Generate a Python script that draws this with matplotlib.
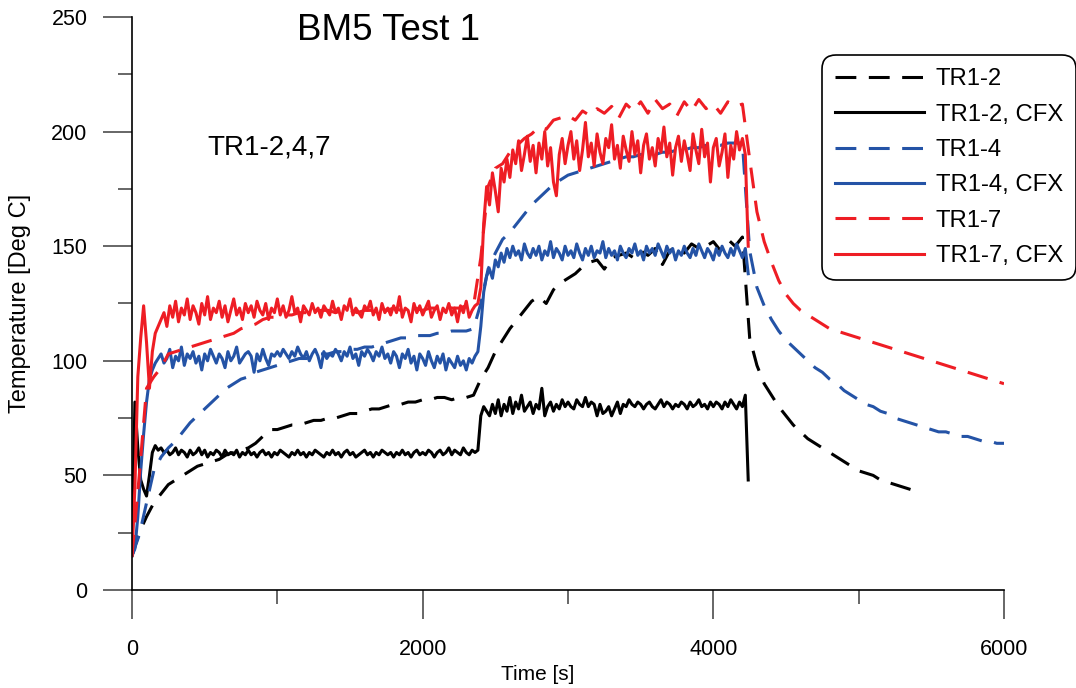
import numpy as np
import matplotlib
matplotlib.use("Agg")
import matplotlib.pyplot as plt

plt.rcParams['font.family'] = ['Liberation Sans', 'DejaVu Sans']
plt.rcParams['lines.scale_dashes'] = False

# Sample times [s]
t_cfx = np.arange(0, 4241, 20)      # CFX simulation output
t_tr2 = np.arange(0, 5401, 50)      # measured TR1-2
t_tr47 = np.arange(0, 6001, 50)     # measured TR1-4 and TR1-7

# Measured temperatures [deg C]
tr2_exp = [
    15, 25, 32, 38, 42, 46, 48, 50, 52, 54,
    55, 56, 57, 59, 60, 61, 62, 64, 67, 70,
    70, 71, 72, 72, 73, 74, 74, 75, 75, 76,
    77, 77, 78, 79, 79, 80, 81, 81, 82, 82,
    83, 83, 84, 84, 83, 84, 84, 85, 92, 97,
    104, 109, 114, 118, 122, 126, 128, 125, 131, 134,
    136, 138, 141, 143, 144, 140, 145, 146, 147, 145,
    148, 146, 149, 142, 148, 150, 147, 151, 149, 150,
    152, 148, 153, 150, 154, 110, 98, 90, 85, 80,
    76, 72, 69, 66, 64, 62, 60, 58, 56, 54,
    52, 51, 50, 48, 47, 46, 45, 44, 43,
]

tr4_exp = [
    15, 24, 38, 52, 58, 62, 65, 69, 73, 76,
    79, 82, 85, 88, 90, 92, 93, 95, 96, 97,
    98, 99, 100, 101, 101, 102, 103, 103, 104, 104,
    105, 105, 106, 106, 107, 108, 109, 110, 110, 111,
    111, 111, 112, 112, 113, 113, 113, 114, 125, 140,
    147, 153, 156, 160, 164, 168, 171, 174, 177, 179,
    181, 182, 183, 184, 185, 186, 187, 188, 189, 189,
    190, 190, 190, 191, 191, 192, 192, 193, 193, 194,
    194, 194, 195, 195, 195, 148, 132, 124, 118, 113,
    109, 106, 103, 100, 97, 95, 92, 90, 87, 85,
    83, 81, 80, 78, 77, 75, 74, 73, 72, 71,
    70, 69, 69, 68, 67, 67, 66, 65, 65, 64,
    64,
]

tr7_exp = [
    15, 50, 88, 93, 97, 103, 104, 105, 106, 107,
    108, 109, 110, 111, 112, 114, 115, 116, 118, 119,
    119, 120, 120, 121, 121, 121, 122, 122, 121, 122,
    122, 121, 122, 122, 123, 122, 123, 122, 123, 123,
    122, 123, 123, 124, 123, 123, 124, 124, 145, 176,
    184, 186, 191, 194, 197, 199, 202, 201, 205, 206,
    207, 205, 209, 207, 210, 208, 211, 206, 212, 209,
    213, 208, 214, 210, 212, 207, 213, 209, 214, 210,
    212, 208, 213, 211, 212, 188, 165, 152, 143, 135,
    129, 125, 122, 120, 118, 116, 114, 113, 112, 111,
    110, 109, 108, 107, 106, 105, 104, 103, 102, 101,
    100, 99, 98, 97, 96, 95, 94, 93, 92, 91,
    90,
]

# CFX results [deg C]
tr2_cfx = [
    15, 82, 62, 48, 44, 41, 50, 60, 63, 61,
    62, 60, 61, 59, 60, 62, 59, 61, 60, 58,
    61, 59, 60, 62, 59, 61, 58, 60, 59, 61,
    60, 58, 61, 59, 60, 59, 61, 58, 60, 59,
    61, 59, 60, 58, 60, 61, 59, 60, 58, 60,
    59, 61, 60, 59, 58, 60, 59, 61, 59, 60,
    58, 60, 59, 61, 60, 59, 58, 60, 59, 61,
    59, 60, 58, 60, 61, 59, 60, 58, 59, 60,
    61, 59, 60, 58, 60, 59, 61, 60, 59, 60,
    58, 60, 59, 61, 59, 60, 58, 60, 61, 59,
    60, 59, 61, 60, 58, 60, 61, 59, 60, 62,
    59, 61, 60, 59, 62, 60, 59, 61, 60, 61,
    76, 80, 78, 76, 81, 77, 83, 76, 81, 78,
    84, 77, 82, 79, 85, 78, 80, 82, 77, 81,
    79, 88, 76, 80, 82, 78, 81, 79, 83, 80,
    82, 80, 79, 83, 81, 80, 84, 80, 82, 81,
    76, 81, 77, 78, 80, 76, 79, 82, 77, 81,
    80, 83, 81, 80, 82, 81, 79, 81, 82, 80,
    79, 81, 83, 80, 82, 81, 79, 81, 80, 82,
    81, 79, 82, 80, 81, 83, 80, 81, 79, 82,
    80, 82, 81, 79, 82, 80, 83, 81, 79, 82,
    80, 85, 48,
]

tr4_cfx = [
    15, 18, 32, 52, 68, 82, 92, 96, 99, 101,
    103, 99, 101, 105, 97, 102, 100, 106, 98, 103,
    101, 104, 99, 102, 96, 103, 100, 105, 102, 99,
    103, 101, 97, 104, 100, 102, 106, 99, 101, 103,
    104, 102, 95, 103, 100, 105, 101, 98, 103, 102,
    104, 102, 105, 103, 101, 104, 102, 106, 103, 101,
    104, 100, 103, 105, 102, 97, 104, 101, 103, 102,
    105, 103, 100, 104, 102, 106, 101, 103, 98, 104,
    102, 105, 103, 100, 104, 102, 106, 101, 103, 99,
    104, 102, 97, 103, 101, 105, 99, 102, 96, 103,
    101, 98, 104, 100, 97, 102, 99, 103, 96, 101,
    99, 97, 102, 98, 100, 96, 101, 99, 102, 104,
    115, 130, 137, 140, 136, 144, 141, 147, 143, 149,
    145, 150, 146, 148, 144, 151, 147, 145, 149, 146,
    150, 144, 148, 146, 152, 145, 149, 147, 144, 150,
    146, 148, 145, 151, 147, 144, 149, 146, 150, 145,
    148, 147, 152, 145, 149, 146, 148, 144, 150, 147,
    145, 149, 147, 151, 146, 148, 144, 150, 147, 149,
    146, 151, 148, 145, 150, 147, 149, 144, 148, 146,
    150, 147, 145, 149, 146, 151, 148, 145, 149, 147,
    144, 149, 146, 150, 147, 145, 149, 146, 151, 148,
    145, 149, 138,
]

tr7_cfx = [
    15, 45, 93, 110, 124, 108, 88, 104, 112, 115,
    118, 121, 115, 124, 119, 126, 117, 123, 120, 127,
    118, 124, 121, 116, 125, 120, 128, 118, 123, 121,
    126, 119, 124, 117, 122, 127, 120, 123, 118, 125,
    121, 124, 119, 126, 122, 120, 125, 118, 123, 121,
    127, 120, 124, 119, 122, 128, 121, 123, 117, 124,
    122, 120, 125, 121, 123, 119, 124, 122, 120, 126,
    121, 123, 118, 124, 122, 127, 120, 123, 121, 119,
    124, 122, 126, 120, 123, 118, 125, 121, 123, 120,
    124, 121, 128, 119, 123, 122, 117, 125, 121, 124,
    120, 123, 126, 119, 122, 124, 118, 123, 121, 125,
    120, 123, 117, 124, 121, 126, 119, 122, 124, 125,
    132, 160, 176, 168, 182, 174, 165, 184, 178, 188,
    180, 192, 186, 196, 183, 190, 198, 187, 194, 182,
    195, 188, 200, 185, 193, 178, 172, 190, 197, 186,
    194, 200, 188, 196, 183, 192, 204, 189, 195, 185,
    199, 191, 186, 197, 193, 203, 188, 194, 184, 198,
    192, 187, 200, 190, 196, 182, 194, 199, 188, 193,
    185, 197, 191, 202, 189, 195, 181, 193, 198, 187,
    196, 190, 183, 199, 192, 186, 201, 189, 195, 178,
    193, 197, 185, 191, 199, 180, 194, 188, 200, 192,
    197, 190, 150,
]

BLACK = '#000000'
BLUE = '#2453A6'
RED = '#EE1D24'
DASH = (15, 9)
LW = 2.2

fig = plt.figure(figsize=(10.76, 6.88), dpi=100)
ax = fig.add_axes([132 / 1076, 1 - 590 / 688, 872 / 1076, 573 / 688])

ax.plot(t_tr2, tr2_exp, color=BLACK, lw=LW, dashes=DASH, label='TR1-2')
ax.plot(t_cfx, tr2_cfx, color=BLACK, lw=LW, label='TR1-2, CFX')
ax.plot(t_tr47, tr4_exp, color=BLUE, lw=LW, dashes=DASH, label='TR1-4')
ax.plot(t_cfx, tr4_cfx, color=BLUE, lw=LW, label='TR1-4, CFX')
ax.plot(t_tr47, tr7_exp, color=RED, lw=LW, dashes=DASH, label='TR1-7')
ax.plot(t_cfx, tr7_cfx, color=RED, lw=LW, label='TR1-7, CFX')

ax.set_xlim(0, 6000)
ax.set_ylim(0, 250)
ax.set_xticks([0, 2000, 4000, 6000])
ax.set_xticks([1000, 3000, 5000], minor=True)
ax.set_yticks(np.arange(0, 251, 50))
ax.set_yticks(np.arange(25, 250, 50), minor=True)
ax.tick_params(which='major', direction='out', length=21, width=1.2,
               color='#4d4d4d', labelsize=15.5)
ax.tick_params(axis='y', which='major', pad=11)
ax.tick_params(axis='x', which='major', pad=14)
ax.tick_params(which='minor', direction='out', length=10, width=1.2,
               color='#4d4d4d')

for side in ('top', 'right'):
    ax.spines[side].set_visible(False)
for side in ('left', 'bottom'):
    ax.spines[side].set_linewidth(1.2)
    ax.spines[side].set_color('black')

ax.set_xlabel('Time [s]', fontsize=15)
ax.xaxis.set_label_coords(0.4656, -0.131)
ax.set_ylabel('Temperature [Deg C]', fontsize=17, va='center')
ax.yaxis.set_label_coords((20 - 132) / 872, 0.5)

ax.text(0.189, 0.9765, 'BM5 Test 1', transform=ax.transAxes,
        fontsize=26.5, ha='left', va='center')
ax.text(0.086, 0.773, 'TR1-2,4,7', transform=ax.transAxes,
        fontsize=20, ha='left', va='center')

leg = ax.legend(loc='upper left', bbox_to_anchor=(822 / 1076, 1 - 55 / 688),
                bbox_transform=fig.transFigure, fontsize=17.2,
                handlelength=3.7, handletextpad=0.52, labelspacing=0.56,
                borderpad=0.55, borderaxespad=0, frameon=True, fancybox=True,
                framealpha=1, edgecolor='black')
leg.get_frame().set_linewidth(1.2)
leg.get_frame().set_boxstyle('round', pad=0, rounding_size=0.6)

fig.savefig('out.png', dpi=100)
